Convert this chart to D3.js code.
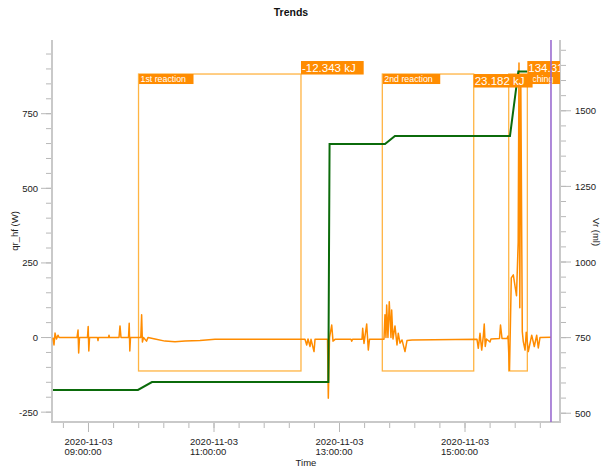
<!DOCTYPE html>
<html>
<head>
<meta charset="utf-8">
<script src="https://cdn.jsdelivr.net/npm/d3@7"></script>
<style>
  body { margin: 0; background: #fff; }
  text { font-family: "Liberation Sans", Arial, sans-serif; }
</style>
</head>
<body>
<div id="chart"></div>
<script>
var day = '2020-11-03 ';

// qr_hf (W)
var qrTimes = ['08:26:04','08:27:00','08:28:00','08:29:24','08:30:50','08:31:50','08:49:00','08:50:00','08:50:36','08:51:24',
  '08:59:00','08:59:42','09:00:18','09:01:00','09:08:36','09:09:05','09:09:34','09:19:07','09:19:36','09:20:05',
  '09:29:10','09:30:07','09:31:05','09:38:15','09:38:55','09:39:30','09:40:10','09:50:00','09:50:48','09:51:32',
  '09:52:36','09:55:28','09:56:54','10:03:35','10:13:09','10:22:43','10:32:16','10:46:37','11:00:57','12:22:14',
  '12:27:01','12:28:38','12:29:54','12:31:49','12:32:46','12:35:38','12:36:35','12:48:32','12:49:18','12:50:27',
  '12:52:33','12:53:48','12:55:43','13:11:00','13:11:40','13:12:26','13:21:30','13:22:11','13:23:25','13:26:00',
  '13:27:32','13:28:41','13:42:32','13:43:29','13:44:26','13:45:06','13:46:20','13:47:35','13:49:13','13:49:53',
  '13:51:08','13:53:03','13:54:58','13:56:12','13:57:50','13:59:45','14:02:37','14:04:32','14:09:19','15:11:28',
  '15:12:43','15:14:21','15:15:59','15:17:31','15:18:24','15:19:22','15:20:31','15:23:52','15:24:49','15:32:59',
  '15:33:57','15:35:23','15:40:10','15:41:07','15:42:33','15:44:16','15:46:11','15:49:14','15:50:51','15:51:37',
  '15:52:23','15:53:20','15:54:47','15:55:45','15:57:24','15:58:33','16:00:32','16:03:47','16:06:15','16:08:33',
  '16:10:05','16:11:42','16:22:13'];
var qrValues = [0,-25,15,-5,8,0,0,25,-52,0,
  0,37,-45,0,0,-10,0,0,8,0,
  0,39,0,0,48,-45,0,0,76,-15,
  0,-12,0,-5,-12,-14,-12,-10,-6,-6,
  -6,-25,-5,-30,-6,-47,-6,-6,-203,0,
  42,-12,-6,-6,-12,-6,-6,31,-20,45,
  -42,-6,-6,76,0,109,0,120,0,92,
  -5,39,-25,14,-19,-8,-47,-10,-8,-6,
  -36,14,-42,5,45,-30,-5,-15,-5,-3,
  42,-3,-3,5,-110,200,210,140,320,920,
  100,880,20,-14,-42,18,-47,8,-30,8,
  -35,0,1];

// Vr (ml)
var vrTimes = ['08:26:04','09:47:18','10:00:40','12:49:20','12:50:30','13:43:30','13:53:00','15:43:00','15:51:00','15:59:30'];
var vrValues = [577,577,603,603,1390,1390,1417,1417,1630,1630];

// phases
var phaseNames = ['1st reaction','2nd reaction','Quenching'];
var phaseStart = ['09:47:50','13:40:56','15:41:48'];
var phaseEnd = ['12:23:10','15:08:20','15:59:36'];
var phaseLabels = ['-12.343 kJ','23.182 kJ','134.31 kJ'];
var phaseTop = 883;
var phaseBottom = -112;

var nowTime = '16:22:13';

var xMajor = ['09:00:00','11:00:00','13:00:00','15:00:00'];
var yLeftMajor = [-250, 0, 250, 500, 750];
var yRightMajor = [500, 750, 1000, 1250, 1500];

var parse = d3.timeParse('%Y-%m-%d %H:%M:%S');
function t(s) { return parse(day + s); }

var w = 603, h = 469;
var pLeft = 52, pRight = 560, pTop = 40, pBottom = 422;

var svg = d3.select('#chart').append('svg').attr('width', w).attr('height', h);

var x = d3.scaleTime().domain([t('08:25:06'), t('16:30:50')]).range([pLeft, pRight]);
var yL = d3.scaleLinear().domain([-283, 997]).range([pBottom, pTop]);
var yR = d3.scaleLinear().domain([471, 1734]).range([pBottom, pTop]);

svg.append('defs').append('clipPath').attr('id', 'plot')
  .append('rect').attr('x', pLeft).attr('y', pTop).attr('width', pRight - pLeft).attr('height', pBottom - pTop);

svg.append('text').attr('x', 291).attr('y', 16).attr('text-anchor', 'middle')
  .attr('font-size', 10.5).attr('font-weight', 'bold').attr('fill', '#111').text('Trends');

// axes
var axisColor = '#c9c9c9';
var tickColor = '#b8b8b8';

var minorX = [];
for (var m = -24; m <= 450; m += 24) minorX.push(new Date(t('09:00:00').getTime() + m * 60000));
minorX = minorX.filter(function (d) { return d >= x.domain()[0] && d <= x.domain()[1]; });

var gx = svg.append('g');
gx.selectAll('line.minor').data(minorX).enter().append('line')
  .attr('x1', function (d) { return x(d); }).attr('x2', function (d) { return x(d); })
  .attr('y1', pBottom).attr('y2', pBottom + 6).attr('stroke', tickColor);
gx.selectAll('line.major').data(xMajor).enter().append('line')
  .attr('x1', function (d) { return x(t(d)); }).attr('x2', function (d) { return x(t(d)); })
  .attr('y1', pBottom).attr('y2', pBottom + 10).attr('stroke', tickColor);
gx.selectAll('text').data(xMajor).enter().append('text')
  .attr('font-size', 9.5).attr('fill', '#222')
  .each(function (d) {
    var el = d3.select(this);
    var a = el.append('tspan').attr('y', 445).text('2020-11-03');
    var len = a.node().getComputedTextLength();
    var x0 = x(t(d)) - len / 2;
    a.attr('x', x0);
    el.append('tspan').attr('x', x0).attr('y', 455).text(d);
  });
svg.append('text').attr('x', 306).attr('y', 466).attr('text-anchor', 'middle')
  .attr('font-size', 9.5).attr('fill', '#222').text('Time');

var gl = svg.append('g');
gl.selectAll('line.minor').data(d3.range(-250, 1000, 50)).enter().append('line')
  .attr('x1', pLeft - 6).attr('x2', pLeft)
  .attr('y1', function (d) { return yL(d); }).attr('y2', function (d) { return yL(d); })
  .attr('stroke', tickColor);
gl.selectAll('line.major').data(yLeftMajor).enter().append('line')
  .attr('x1', pLeft - 11).attr('x2', pLeft)
  .attr('y1', function (d) { return yL(d); }).attr('y2', function (d) { return yL(d); })
  .attr('stroke', tickColor);
gl.selectAll('text').data(yLeftMajor).enter().append('text')
  .attr('x', 38).attr('y', function (d) { return yL(d) + 3.5; })
  .attr('text-anchor', 'end').attr('font-size', 9.5).attr('fill', '#222')
  .text(function (d) { return d; });
svg.append('text').attr('transform', 'translate(18,231) rotate(-90)').attr('text-anchor', 'middle')
  .attr('font-size', 9.5).attr('fill', '#222').text('qr_hf (W)');

var gr = svg.append('g');
gr.selectAll('line.minor').data(d3.range(500, 1701, 50)).enter().append('line')
  .attr('x1', pRight).attr('x2', pRight + 6)
  .attr('y1', function (d) { return yR(d); }).attr('y2', function (d) { return yR(d); })
  .attr('stroke', tickColor);
gr.selectAll('line.major').data(yRightMajor).enter().append('line')
  .attr('x1', pRight).attr('x2', pRight + 11)
  .attr('y1', function (d) { return yR(d); }).attr('y2', function (d) { return yR(d); })
  .attr('stroke', tickColor);
gr.selectAll('text').data(yRightMajor).enter().append('text')
  .attr('x', 575).attr('y', function (d) { return yR(d) + 3.5; })
  .attr('font-size', 9.5).attr('fill', '#222')
  .text(function (d) { return d; });
svg.append('text').attr('transform', 'translate(593,232) rotate(90)').attr('text-anchor', 'middle')
  .attr('font-size', 9.5).attr('fill', '#222').text('Vr (ml)');

svg.append('path')
  .attr('d', 'M' + pLeft + ',' + pTop + 'V' + pBottom + 'H' + pRight + 'V' + pTop)
  .attr('fill', 'none').attr('stroke', axisColor).attr('stroke-width', 2);

// plot content
var plot = svg.append('g').attr('clip-path', 'url(#plot)');

plot.selectAll('rect.phase').data(phaseNames).enter().append('rect')
  .attr('x', function (d, i) { return x(t(phaseStart[i])); })
  .attr('y', yL(phaseTop))
  .attr('width', function (d, i) { return x(t(phaseEnd[i])) - x(t(phaseStart[i])); })
  .attr('height', yL(phaseBottom) - yL(phaseTop))
  .attr('fill', 'none').attr('stroke', '#ffb443').attr('stroke-width', 1.3);

var qr = qrTimes.map(function (d, i) { return [t(d), qrValues[i]]; });
var vr = vrTimes.map(function (d, i) { return [t(d), vrValues[i]]; });

plot.append('path').datum(qr)
  .attr('d', d3.line().x(function (d) { return x(d[0]); }).y(function (d) { return yL(d[1]); }))
  .attr('fill', 'none').attr('stroke', '#ff8c00').attr('stroke-width', 1.5).attr('stroke-linejoin', 'round');

plot.append('path').datum(vr)
  .attr('d', d3.line().x(function (d) { return x(d[0]); }).y(function (d) { return yR(d[1]); }))
  .attr('fill', 'none').attr('stroke', '#0b6b0b').attr('stroke-width', 2);

// phase names
plot.selectAll('g.name').data(phaseNames).enter().append('g')
  .each(function (d, i) {
    var g = d3.select(this);
    var x0 = x(t(phaseStart[i])) + 0.5;
    var y0 = yL(phaseTop);
    var r = g.append('rect').attr('x', x0).attr('y', y0).attr('height', 10).attr('fill', '#ff8c00');
    var tx = g.append('text').attr('x', x0 + 1.5).attr('y', y0 + 8.2)
      .attr('font-size', 8.8).attr('fill', '#fff').text(d);
    r.attr('width', tx.node().getComputedTextLength() + 9);
  });

// phase values
var valueShift = [0, 13, 0];
plot.selectAll('g.value').data(phaseLabels).enter().append('g')
  .each(function (d, i) {
    var g = d3.select(this);
    var x0 = x(t(phaseEnd[i]));
    var y0 = yL(phaseTop) - 13 + valueShift[i];
    var r = g.append('rect').attr('x', x0).attr('y', y0).attr('height', 13.5).attr('fill', '#ff8c00');
    var tx = g.append('text').attr('x', x0 + 1).attr('y', y0 + 11)
      .attr('font-size', 11.5).attr('fill', '#fff').text(d);
    r.attr('width', tx.node().getComputedTextLength() + 9);
  });

svg.append('line')
  .attr('x1', x(t(nowTime))).attr('x2', x(t(nowTime)))
  .attr('y1', pTop).attr('y2', pBottom)
  .attr('stroke', '#9b6bd0').attr('stroke-width', 1.6);
</script>
</body>
</html>
